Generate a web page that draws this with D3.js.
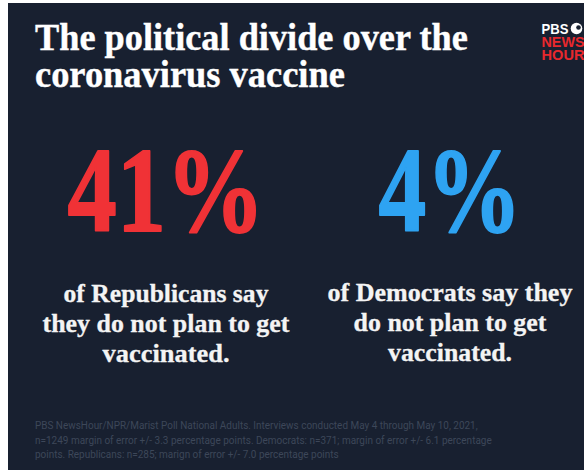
<!DOCTYPE html>
<html>
<head>
<meta charset="utf-8">
<script src="https://cdn.jsdelivr.net/npm/d3@7"></script>
<style>
  html, body { margin: 0; padding: 0; background: #ffffff; }
  svg { display: block; }
</style>
</head>
<body>
<svg id="chart" width="584" height="470"></svg>
<script>
// ---- data ----
const titleLines = ["The political divide over the", "coronavirus vaccine"];
const groups = ["Republicans", "Democrats"];
const values = [41, 4];
const groupColors = ["#f03236", "#2ea3f2"];
const captions = [
  ["of Republicans say", "they do not plan to get", "vaccinated."],
  ["of Democrats say they", "do not plan to get", "vaccinated."]
];
const footerLines = [
  "PBS NewsHour/NPR/Marist Poll National Adults. Interviews conducted May 4 through May 10, 2021,",
  "n=1249 margin of error +/- 3.3 percentage points. Democrats: n=371; margin of error +/- 6.1 percentage",
  "points. Republicans: n=285; marign of error +/- 7.0 percentage points"
];
const logoLines = ["PBS", "NEWS", "HOUR"];

// ---- layout ----
const W = 584, H = 470;
const svg = d3.select("#chart");
const serif = "'Liberation Serif', 'DejaVu Serif', serif";
const sans = "Roboto, 'Liberation Sans', sans-serif";

svg.append("rect").attr("x", 8).attr("y", 3).attr("width", W - 8).attr("height", H - 3).attr("fill", "#182030");

// horizontally fit a text element to a target width, keeping its anchor at (x,y)
function place(t, x, y, targetW) {
  const w = t.node().getComputedTextLength();
  const s = targetW ? targetW / w : 1;
  t.attr("x", 0).attr("y", 0).attr("transform", `translate(${x},${y}) scale(${s},1)`);
}

// title
const titleW = [433, 310];
const titleY = d3.scaleLinear().domain([0, 1]).range([50, 87]);
titleLines.forEach((line, i) => {
  const t = svg.append("text").text(line)
    .attr("font-family", serif).attr("font-weight", "bold").attr("font-size", 37)
    .attr("fill", "#ffffff").attr("stroke", "#ffffff").attr("stroke-width", 0.4);
  place(t, 35, titleY(i), titleW[i]);
});

// logo
const logoY = d3.scaleLinear().domain([0, 2]).range([33.5, 60]);
const logoW = [27, 43, 43];
logoLines.forEach((line, i) => {
  const t = svg.append("text").text(line)
    .attr("font-family", "'Liberation Sans', Arial, sans-serif").attr("font-weight", "bold")
    .attr("font-size", 14.5).attr("fill", i === 0 ? "#ffffff" : "#e8282d");
  place(t, 541.5, logoY(i), logoW[i]);
});
svg.append("circle").attr("cx", 576.5).attr("cy", 28.5).attr("r", 5.8).attr("fill", "#ffffff");
svg.append("circle").attr("cx", 578.5).attr("cy", 27.5).attr("r", 2.3).attr("fill", "#182030");

// columns
const x = d3.scaleBand().domain(groups).range([24, 592]);
const cx = g => x(g) + x.bandwidth() / 2;
const numW = [197, 143];

groups.forEach((g, i) => {
  const t = svg.append("text").text(d3.format("d")(values[i]) + "%")
    .attr("font-family", serif).attr("font-weight", "bold").attr("font-size", 120)
    .attr("fill", groupColors[i]).attr("stroke", groupColors[i]).attr("stroke-width", 1.8)
    .attr("stroke-linejoin", "round").attr("text-anchor", "middle");
  place(t, cx(g), 231, numW[i]);
});

const capY = d3.scaleLinear().domain([0, 2]).range([302, 362]);
const capW = [[205, 247, 127], [245, 193, 124]];
groups.forEach((g, i) => {
  captions[i].forEach((line, j) => {
    const t = svg.append("text").text(line)
      .attr("font-family", serif).attr("font-weight", "bold").attr("font-size", 25)
      .attr("fill", "#f4f4f4").attr("stroke", "#f4f4f4").attr("stroke-width", 0.3)
      .attr("text-anchor", "middle");
    place(t, cx(g), capY(j) - (i === 1 ? 1.5 : 0), capW[i][j]);
  });
});

// footer
const footY = d3.scaleLinear().domain([0, 2]).range([429, 458]);
const footW = [443, 457, 304];
footerLines.forEach((line, i) => {
  const t = svg.append("text").text(line)
    .attr("font-family", sans).attr("font-size", 11.5).attr("fill", "#3d4759");
  place(t, 35, footY(i), footW[i]);
});
</script>
</body>
</html>
